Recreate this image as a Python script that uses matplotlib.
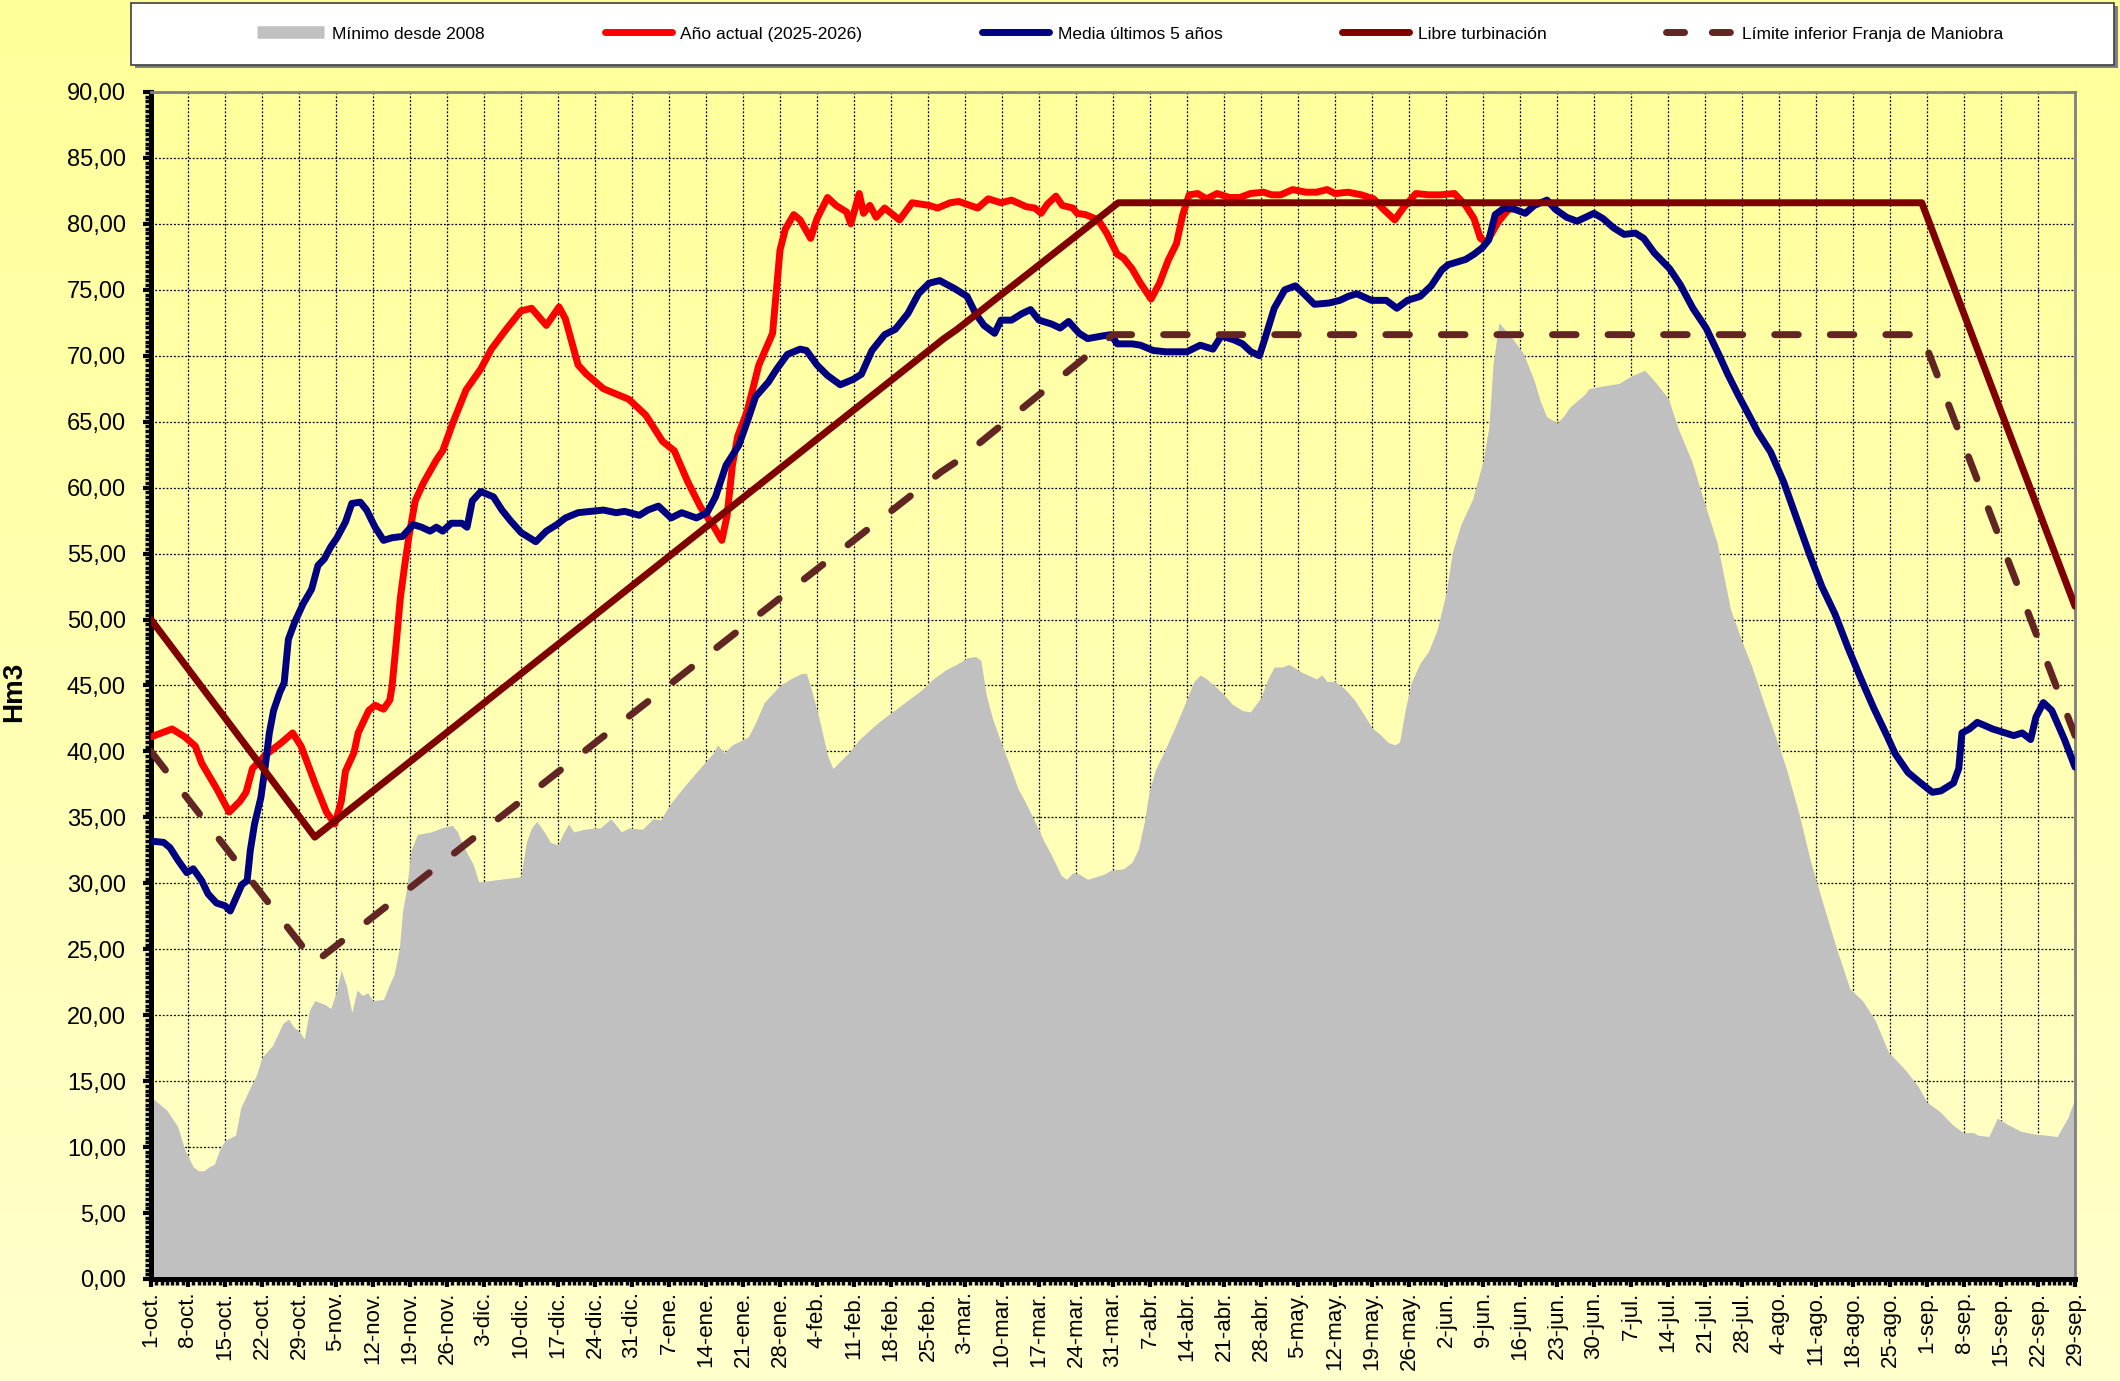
import matplotlib
matplotlib.use("Agg")
import matplotlib.pyplot as plt
import numpy as np
from matplotlib.colors import LinearSegmentedColormap
from matplotlib.lines import Line2D
from matplotlib.patches import Rectangle
from matplotlib.ticker import FixedLocator, FuncFormatter, MultipleLocator

plt.rcParams["font.family"] = ["Liberation Sans", "DejaVu Sans"]

# weekly tick labels, hydrological year 1-oct .. 29-sep (leap-year calendar)
week_labels = ["1-oct.", "8-oct.", "15-oct.", "22-oct.", "29-oct.", "5-nov.", "12-nov.",
               "19-nov.", "26-nov.", "3-dic.", "10-dic.", "17-dic.", "24-dic.", "31-dic.",
               "7-ene.", "14-ene.", "21-ene.", "28-ene.", "4-feb.", "11-feb.", "18-feb.",
               "25-feb.", "3-mar.", "10-mar.", "17-mar.", "24-mar.", "31-mar.", "7-abr.",
               "14-abr.", "21-abr.", "28-abr.", "5-may.", "12-may.", "19-may.", "26-may.",
               "2-jun.", "9-jun.", "16-jun.", "23-jun.", "30-jun.", "7-jul.", "14-jul.",
               "21-jul.", "28-jul.", "4-ago.", "11-ago.", "18-ago.", "25-ago.", "1-sep.",
               "8-sep.", "15-sep.", "22-sep.", "29-sep."]

# Mínimo desde 2008 (day of year from 1-oct, Hm3)
min_days = [0, 3, 5, 6.5, 8, 9, 10, 11, 12, 13, 14, 16, 17, 19, 20, 21, 23, 25, 26, 27, 28, 29,
            30, 31, 33, 34, 35, 36, 37, 38, 39, 40, 41, 42, 44, 45, 46, 47, 47.6, 48.4, 49.2,
            50.4, 53, 55, 57, 58, 59, 61, 62, 66, 70, 71, 72, 73, 74.4, 75.6, 77, 78, 79, 80,
            82, 84, 85, 87, 88, 89, 90.4, 93, 95, 96.4, 98.4, 101, 104, 106.4, 107.2, 108.4,
            110, 113, 114.4, 116, 119, 121, 123, 124, 125, 126.4, 128, 129, 131, 132, 134,
            137.6, 141.6, 145.6, 148, 150.4, 152.4, 154.4, 156, 157, 158, 159.2, 160.8, 162.4,
            164, 165.6, 167.2, 168.8, 170.4, 172.2, 173.2, 174.4, 175.6, 177.2, 178.8, 180.4,
            181.6, 184, 185.6, 186.8, 188, 188.8, 190, 191.7, 193.7, 195.7, 197.3, 198.5,
            199.7, 201.7, 203, 204.5, 206.5, 208, 210, 211.3, 212.5, 214, 215.3, 217.7, 220.5,
            221.5, 222.5, 224, 225.7, 227.7, 229.3, 231, 232.5, 234, 235.3, 236.2, 237.3,
            238.5, 240.1, 241.7, 243.3, 245, 246.2, 247.8, 250, 252, 253.1, 253.9, 255, 257,
            259.6, 261.6, 262.8, 264, 266, 267.2, 268.4, 271.3, 272, 274.5, 277.7, 280.2,
            282.6, 284.6, 287, 289, 291.5, 294, 296.3, 298.8, 301.2, 302.8, 305.2, 307.7,
            309.3, 311.7, 314, 316.5, 319, 321.4, 323.8, 326.2, 328.7, 332, 334.3, 336, 338.4,
            340.8, 342.8, 344.8, 345.6, 347.7, 349.3, 351.3, 353.7, 356.2, 358.6, 360.6,
            362.6, 364]
min_vals = [13.8, 12.8, 11.6, 9.7, 8.5, 8.2, 8.2, 8.5, 8.7, 9.8, 10.5, 10.9, 13.0, 14.7, 15.5,
            16.8, 17.7, 19.4, 19.7, 19.1, 18.8, 18.2, 20.4, 21.1, 20.8, 20.5, 21.7, 23.4, 22.2,
            20.2, 21.9, 21.5, 21.7, 21.1, 21.2, 22.2, 23.1, 25.1, 27.9, 29.7, 32.5, 33.7, 33.9,
            34.2, 34.4, 33.9, 32.9, 31.4, 30.1, 30.3, 30.5, 33.1, 34.2, 34.7, 33.9, 33.1, 32.9,
            33.8, 34.5, 33.9, 34.1, 34.2, 34.2, 34.9, 34.4, 33.9, 34.2, 34.1, 34.9, 34.8, 36.1,
            37.4, 38.8, 39.9, 40.5, 39.9, 40.5, 41.1, 42.2, 43.7, 45.0, 45.5, 45.9, 45.9, 44.6,
            42.5, 39.7, 38.7, 39.5, 39.9, 40.9, 42.2, 43.4, 44.6, 45.5, 46.2, 46.6, 47.1, 47.2,
            46.9, 44.3, 42.5, 40.7, 39.0, 37.2, 36.0, 34.7, 33.3, 32.1, 30.6, 30.3, 30.8, 30.7,
            30.3, 30.5, 30.7, 31.0, 31.1, 31.6, 32.6, 34.8, 36.9, 38.6, 40.0, 41.8, 43.7, 45.3,
            45.8, 45.5, 44.8, 44.3, 43.6, 43.1, 43.0, 44.1, 45.5, 46.4, 46.4, 46.6, 46.0, 45.5,
            45.8, 45.3, 45.3, 44.8, 43.9, 42.9, 41.8, 41.3, 40.7, 40.5, 40.7, 43.2, 45.3, 46.7,
            47.6, 49.2, 52.0, 55.1, 57.2, 59.1, 62.0, 64.6, 69.4, 72.5, 71.6, 70.2, 68.2, 66.6,
            65.4, 64.9, 65.4, 66.1, 67.1, 67.5, 67.7, 67.9, 68.5, 68.9, 68.0, 66.8, 64.4, 62.0,
            58.7, 55.8, 50.8, 48.1, 46.5, 43.6, 40.7, 38.8, 35.4, 31.6, 28.2, 24.9, 22.0, 21.1,
            19.6, 17.2, 15.8, 14.6, 13.4, 12.7, 11.7, 11.1, 11.1, 10.9, 10.8, 12.2, 11.7, 11.2,
            11.0, 10.9, 10.8, 12.2, 13.7]

# Año actual (2025-2026)
act_days = [0, 4, 6.4, 8.4, 9.6, 12.4, 14.8, 16.8, 18, 19.2, 21.6, 24.8, 26.8, 28.4, 31.2,
            33.2, 34.8, 36, 36.8, 38.4, 39.2, 41.2, 42.4, 44, 45.2, 45.6, 46.4, 47.2, 48, 48.8,
            50, 51.6, 54, 55.2, 57.2, 59.6, 62.4, 64.4, 67.2, 70, 72, 74.8, 77.2, 78.4, 80.8,
            82.4, 85.6, 88, 90.4, 93.6, 96.8, 99, 101.6, 104, 106.4, 108, 109, 110, 111, 112.8,
            115, 117.6, 118.4, 119, 120, 121.6, 122.8, 124.8, 126, 128, 129.6, 131.6, 132.4,
            134, 134.8, 136, 137.2, 138.8, 141.6, 144, 147.2, 148.8, 151.2, 152.8, 156.4, 158.4,
            160.8, 162.8, 165.6, 167.2, 168.4, 169.6, 171.2, 172.4, 174.4, 175.2, 176.8, 179.2,
            180.8, 182.8, 184, 185.6, 187.2, 189.2, 190.8, 192.4, 194, 195.2, 196.4, 198, 199.7,
            201.7, 204, 206, 208, 210.5, 212, 213.7, 216, 218.5, 220.5, 222.5, 224, 226.5, 229,
            231.3, 232.9, 235.3, 236.9, 239.3, 241.7, 244, 246.6, 248.7, 250.3, 251.5, 252.7,
            254.8, 256.8]
act_vals = [41.1, 41.7, 41.1, 40.4, 39.1, 37.2, 35.4, 36.2, 36.9, 38.7, 39.7, 40.7, 41.4, 40.4,
            37.4, 35.4, 34.5, 36.2, 38.5, 39.9, 41.4, 43.1, 43.5, 43.2, 43.9, 44.9, 48.2, 51.7,
            54.1, 56.3, 59.0, 60.4, 62.1, 62.8, 65.0, 67.4, 69.0, 70.5, 72.0, 73.4, 73.6, 72.3,
            73.7, 72.8, 69.3, 68.6, 67.5, 67.1, 66.7, 65.5, 63.5, 62.8, 60.4, 58.5, 57.1, 56.0,
            57.9, 61.7, 63.9, 65.8, 69.3, 71.7, 75.3, 78.0, 79.6, 80.7, 80.3, 78.9, 80.4, 82.0,
            81.4, 80.9, 80.0, 82.3, 80.8, 81.4, 80.5, 81.2, 80.3, 81.6, 81.4, 81.2, 81.6, 81.7,
            81.2, 81.9, 81.6, 81.8, 81.3, 81.2, 80.8, 81.5, 82.1, 81.4, 81.2, 80.8, 80.7, 80.3,
            79.3, 77.7, 77.4, 76.6, 75.5, 74.3, 75.5, 77.2, 78.5, 80.7, 82.2, 82.3, 81.9, 82.3,
            82.0, 82.0, 82.3, 82.4, 82.2, 82.2, 82.6, 82.4, 82.4, 82.6, 82.3, 82.4, 82.2, 81.9,
            81.2, 80.3, 81.2, 82.3, 82.2, 82.2, 82.3, 81.4, 80.4, 78.9, 78.6, 80.1, 81.1]

# Media últimos 5 años
avg_days = [0, 2.4, 3.6, 5.2, 6.8, 8, 9.6, 10.8, 12.4, 14, 15, 16, 17.2, 18.2, 18.8, 19.6, 20.8,
            21.6, 22.4, 23.2, 24.4, 25.2, 26, 27.2, 28.8, 30.4, 31.6, 32.8, 34, 35.2, 36.8, 38,
            39.6, 40.8, 42.4, 44, 45.6, 47.6, 49.6, 51.2, 52.8, 54, 55.2, 56.8, 58.8, 59.8, 60.8,
            62.4, 64.8, 66.4, 68, 70, 72.8, 74.8, 76.8, 78.4, 80.8, 83.2, 85.6, 88, 89.6, 92.4,
            94, 96, 98.4, 100.4, 103.2, 105.2, 106.8, 108.8, 111.2, 112.8, 114.4, 116.8, 118.4,
            120.4, 122.8, 124, 126, 128, 130.4, 132.8, 134.4, 136.4, 138.8, 140.8, 143.2, 145.2,
            147.2, 149.2, 152, 154.4, 156, 157.6, 159.6, 160.8, 162.8, 164.8, 166.4, 168, 170.4,
            172, 173.6, 175.6, 177.2, 180, 181.6, 182.8, 185.6, 187.2, 189.6, 192, 196, 198.5,
            200.9, 202.5, 204.9, 206.5, 208.1, 209.7, 210.9, 212.5, 214.5, 216.5, 218.1, 220.1,
            222.9, 224.9, 226.5, 228.1, 230.9, 233.7, 235.7, 237.7, 240.1, 242.2, 244.2, 245.4,
            248.7, 250.3, 251.9, 253.1, 254.3, 256, 258, 260, 261.7, 264.1, 265.7, 267.8, 269.8,
            271.4, 273, 274.7, 276.7, 278.7, 280.8, 282.4, 284.4, 287.3, 289.3, 291.7, 294.2,
            296.6, 298.3, 300.3, 302.3, 304, 306.4, 308.9, 311.3, 313.7, 316.1, 318.6, 321,
            323.5, 325.9, 328.4, 330, 332.4, 334.8, 337, 338.6, 341, 342, 342.6, 344, 345.5,
            346.7, 348.4, 350.8, 352.4, 354, 355.6, 356.6, 358, 359.6, 362, 364]
avg_vals = [33.2, 33.1, 32.7, 31.7, 30.8, 31.1, 30.2, 29.2, 28.5, 28.3, 27.9, 28.8, 29.9, 30.2,
            32.5, 34.5, 36.5, 38.8, 41.4, 43.1, 44.5, 45.2, 48.5, 49.8, 51.2, 52.3, 54.1, 54.6,
            55.5, 56.2, 57.4, 58.8, 58.9, 58.3, 57.0, 56.0, 56.2, 56.3, 57.2, 57.0, 56.7, 57.0,
            56.7, 57.3, 57.3, 57.0, 59.0, 59.7, 59.3, 58.3, 57.5, 56.6, 55.9, 56.7, 57.2, 57.7,
            58.1, 58.2, 58.3, 58.1, 58.2, 57.9, 58.3, 58.6, 57.7, 58.1, 57.7, 58.1, 59.3, 61.7,
            63.2, 65.0, 66.9, 68.0, 69.0, 70.1, 70.5, 70.4, 69.3, 68.5, 67.8, 68.2, 68.6, 70.4,
            71.6, 72.0, 73.2, 74.7, 75.5, 75.7, 75.1, 74.5, 73.2, 72.3, 71.7, 72.7, 72.7, 73.2,
            73.5, 72.7, 72.4, 72.1, 72.6, 71.7, 71.3, 71.5, 71.6, 70.9, 70.9, 70.8, 70.4, 70.3,
            70.3, 70.8, 70.5, 71.5, 71.2, 70.9, 70.3, 70.0, 71.5, 73.6, 75.0, 75.3, 74.7, 73.9,
            74.0, 74.2, 74.5, 74.7, 74.2, 74.2, 73.6, 74.2, 74.5, 75.3, 76.5, 76.9, 77.3, 77.7,
            78.2, 78.8, 80.7, 81.2, 81.1, 80.8, 81.4, 81.8, 81.1, 80.5, 80.2, 80.5, 80.8, 80.4,
            79.7, 79.2, 79.3, 78.9, 77.8, 76.6, 75.4, 73.6, 72.1, 70.1, 68.6, 67.0, 65.5, 64.2,
            62.7, 60.4, 57.7, 55.0, 52.5, 50.4, 47.9, 45.5, 43.3, 41.2, 39.8, 38.4, 37.6, 36.9,
            37.0, 37.6, 38.7, 41.4, 41.7, 42.2, 42.0, 41.7, 41.4, 41.2, 41.4, 40.9, 42.6, 43.7,
            43.1, 40.9, 38.8]

# Libre turbinación (piecewise rule curve)
libre_days = [0, 31, 150, 152.5, 183, 335, 364]
libre_vals = [50.0, 33.5, 71.3, 72.0, 81.6, 81.6, 51.0]

# Límite inferior Franja de Maniobra
franja_days = [0, 31, 149.5, 152.5, 182, 335, 364]
franja_vals = [40.0, 24.0, 61.2, 62.0, 71.6, 71.6, 41.2]

fig = plt.figure(figsize=(21.2, 13.81), dpi=100)

# yellow gradient background behind everything
bg = fig.add_axes([0, 0, 1, 1], zorder=-10)
grad = np.linspace(0, 1, 256).reshape(-1, 1)
bg.imshow(grad, aspect="auto", extent=[0, 1, 0, 1], origin="upper",
          cmap=LinearSegmentedColormap.from_list("bg", ["#FFFF99", "#FFFFCC"]))
bg.axis("off")

ax = fig.add_axes([0.0712, 0.0739, 0.9076, 0.8595])
ax.set_facecolor("none")

lw = 5.0
ax.fill_between(min_days, min_vals, 0, color="#C0C0C0", lw=0, zorder=2)
ax.plot(act_days, act_vals, color="#FF0000", lw=lw, solid_capstyle="round",
        solid_joinstyle="round", zorder=3)
ax.plot(avg_days, avg_vals, color="#000080", lw=lw, solid_capstyle="round",
        solid_joinstyle="round", zorder=4)
ax.plot(libre_days, libre_vals, color="#800000", lw=lw, solid_capstyle="round", zorder=5)
ax.plot(franja_days, franja_vals, color="#632523", lw=lw, ls=(0, (3.4, 4.6)),
        dash_capstyle="round", zorder=6)

ax.set_xlim(0, 364)
ax.set_ylim(0, 90)

ax.xaxis.set_major_locator(FixedLocator(np.arange(0, 365, 7)))
ax.xaxis.set_minor_locator(MultipleLocator(1))
ax.set_xticklabels(week_labels, rotation=90, fontsize=16)
ax.yaxis.set_major_locator(MultipleLocator(5))
ax.yaxis.set_minor_locator(MultipleLocator(5 / 14))
ax.yaxis.set_major_formatter(FuncFormatter(lambda v, p: f"{v:.2f}".replace(".", ",")))
ax.tick_params(axis="y", which="major", labelsize=17, length=6, width=3, pad=12)
ax.tick_params(axis="x", which="major", length=6, width=3, pad=3)
ax.tick_params(which="minor", length=4, width=2.5)

ax.grid(True, which="major", color="black", lw=0.9, ls=(0, (1.5, 1.5)), zorder=1)
ax.set_axisbelow(True)

for side in ("left", "bottom"):
    ax.spines[side].set_linewidth(3.6)
    ax.spines[side].set_color("black")
for side in ("top", "right"):
    ax.spines[side].set_linewidth(2)
    ax.spines[side].set_color("#808080")

ax.set_ylabel("Hm3", fontsize=20, fontweight="bold")
ax.yaxis.set_label_coords(-0.0645, 0.495)

# legend box with a small shadow
fig.add_artist(Rectangle((0.0635, 0.9505), 0.9355, 0.0449, transform=fig.transFigure,
                         facecolor="#808080", edgecolor="none", zorder=8))
fig.add_artist(Rectangle((0.0618, 0.9529), 0.9355, 0.0449, transform=fig.transFigure,
                         facecolor="white", edgecolor="#404040", lw=1.2, zorder=9))
handles = [
    Line2D([], [], color="#C0C0C0", lw=9, solid_capstyle="butt"),
    Line2D([], [], color="#FF0000", lw=lw, solid_capstyle="round"),
    Line2D([], [], color="#000080", lw=lw, solid_capstyle="round"),
    Line2D([], [], color="#800000", lw=lw, solid_capstyle="round"),
    Line2D([], [], color="#632523", lw=lw, ls=(0, (2.6, 4.0)), dash_capstyle="round"),
]
labels = ["Mínimo desde 2008", "Año actual (2025-2026)", "Media últimos 5 años",
          "Libre turbinación", "Límite inferior Franja de Maniobra"]
leg = fig.legend(handles, labels, loc="center", bbox_to_anchor=(0.533, 0.9754), ncol=5,
                 frameon=False, fontsize=12.5, handlelength=3.85, handletextpad=0.5,
                 columnspacing=6.9)
leg.set_zorder(10)

fig.savefig("out.png", dpi=100)
